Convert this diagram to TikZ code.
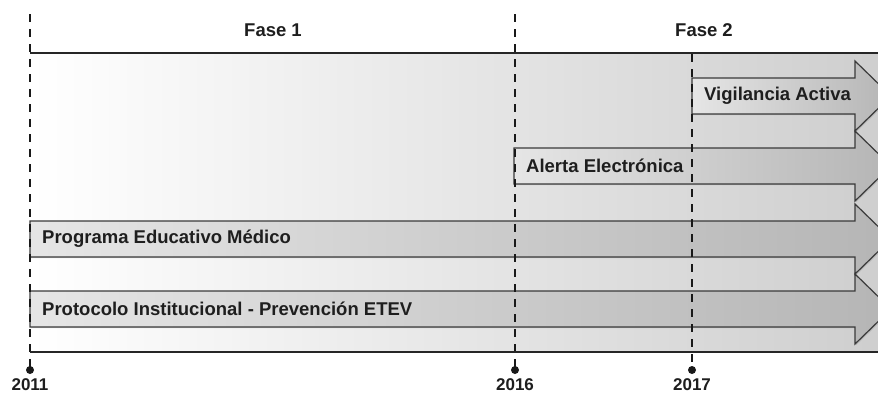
\documentclass[tikz,border=0pt]{standalone}
\usepackage{fontspec}
\setmainfont{Liberation Sans}
\usetikzlibrary{shadows}
\definecolor{outl}{HTML}{3A3A3A}
\definecolor{txt}{HTML}{1E1E1E}
\begin{document}
\begin{tikzpicture}[x=1pt,y=-1pt,
  lbl/.style={font=\bfseries\fontsize{18.5}{20}\selectfont, text=txt, inner sep=0pt},
  yr/.style={font=\bfseries\fontsize{17}{19}\selectfont, text=txt, inner sep=0pt},
  arr/.style={draw=outl, line width=1.2pt, left color=black!10, middle color=black!17, right color=black!29,
    drop shadow={opacity=0.3, shadow xshift=1.2pt, shadow yshift=-1.2pt}},
  vdash/.style={dash pattern=on 8pt off 7pt, line width=1.5pt, black!90},
  yeardot/.style={circle, fill=black!90, inner sep=0pt, minimum size=8pt},
  frameline/.style={line width=1.5pt, black!85}
]
\useasboundingbox (0,0) rectangle (878,392);
\clip (0,0) rectangle (878,392);
% background panel
\shade[left color=white, middle color=black!5, right color=black!19] (30,53) rectangle (878,352);
% arrows
\path[arr] (692,78) -- (855,78) -- (855,61) -- (891,96) -- (855,131) -- (855,114) -- (692,114) -- cycle;
\path[arr] (514,148) -- (855,148) -- (855,131) -- (891,166) -- (855,201) -- (855,184) -- (514,184) -- cycle;
\path[arr] (30,221) -- (855,221) -- (855,204) -- (891,239) -- (855,274) -- (855,257) -- (30,257) -- cycle;
\path[arr] (30,291) -- (855,291) -- (855,274) -- (891,309) -- (855,344) -- (855,327) -- (30,327) -- cycle;
% year markers
\node[yeardot] (d2011) at (30,370) {};
\node[yeardot] (d2016) at (515,370) {};
\node[yeardot] (d2017) at (692,370) {};
\coordinate (t2011) at (30,14);
\coordinate (t2016) at (515,14);
\coordinate (t2017) at (692,54);
\draw[vdash] (t2011) -- (d2011.center);
\draw[vdash] (t2016) -- (d2016.center);
\draw[vdash] (t2017) -- (d2017.center);
% frame lines
\coordinate (ftl) at (30,53);
\coordinate (ftr) at (878,53);
\coordinate (fbl) at (30,352);
\coordinate (fbr) at (878,352);
\draw[frameline] (ftl) -- (ftr);
\draw[frameline] (fbl) -- (fbr);
% labels
\node[lbl] (fase1) at (273,30) {Fase 1};
\node[lbl] (fase2) at (704,30) {Fase 2};
\node[lbl, anchor=west] (vig) at (704,96) {Vigilancia Activa};
\node[lbl, anchor=west] (alerta) at (526,166) {Alerta Electrónica};
\node[lbl, anchor=west] (prog) at (42,239) {Programa Educativo Médico};
\node[lbl, anchor=west] (prot) at (42,309) {Protocolo Institucional - Prevención ETEV};
\node[yr, anchor=north] (y2011) at (30,378) {2011};
\node[yr, anchor=north] (y2016) at (515,378) {2016};
\node[yr, anchor=north] (y2017) at (692,378) {2017};
\end{tikzpicture}
\end{document}
